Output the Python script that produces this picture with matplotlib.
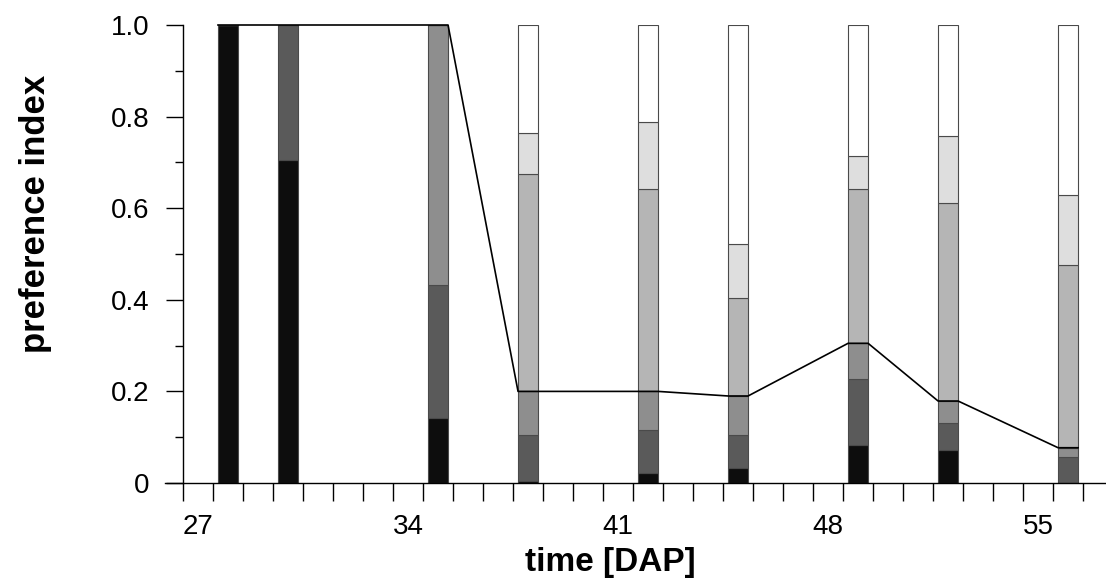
import numpy as np
import matplotlib
matplotlib.use("Agg")
import matplotlib.pyplot as plt
from matplotlib.ticker import FixedLocator, FuncFormatter

plt.rcParams['font.family'] = ['Liberation Sans', 'DejaVu Sans']

# sampling days (DAP)
days = [28, 30, 35, 38, 42, 45, 49, 52, 56]

# stacked fractions, bottom to top
black = [1.0, 0.705, 0.143, 0.004, 0.021, 0.032, 0.083, 0.072, 0.0]
dark = [0.0, 0.295, 0.289, 0.101, 0.095, 0.073, 0.144, 0.060, 0.057]
medium = [0.0, 0.0, 0.568, 0.095, 0.084, 0.085, 0.078, 0.047, 0.020]
lightmed = [0.0, 0.0, 0.0, 0.475, 0.441, 0.215, 0.338, 0.432, 0.399]
vlight = [0.0, 0.0, 0.0, 0.090, 0.147, 0.117, 0.072, 0.147, 0.153]
white = [0.0, 0.0, 0.0, 0.235, 0.212, 0.478, 0.285, 0.242, 0.371]

x_labels = [27, 34, 41, 48, 55]
y_labels = [0, 0.2, 0.4, 0.6, 0.8, 1.0]

layers = [black, dark, medium, lightmed, vlight, white]
colors = ['#0d0d0d', '#5a5a5a', '#8e8e8e', '#b5b5b5', '#dedede', '#ffffff']

fig = plt.figure(figsize=(11.06, 5.84), dpi=100)
ax = fig.add_axes([183 / 1106, 1 - 483 / 584, (1105 - 183) / 1106, 458 / 584])

w = 0.667
bottom = np.zeros(len(days))
for vals, c in zip(layers, colors):
    vals = np.array(vals)
    ax.bar(days, vals, width=w, bottom=bottom, color=c, edgecolor='#4a4a4a',
           linewidth=0.8, zorder=2)
    bottom += vals

# line = black + dark + medium
line = np.array(black) + np.array(dark) + np.array(medium)
lx = np.ravel([[d - w / 2, d + w / 2] for d in days])
ly = np.repeat(line, 2)
ax.plot(lx, ly, color='black', lw=1.2, zorder=3, clip_on=False)

ax.set_xlim(26.5, 57.23)
ax.set_ylim(0, 1.0)

for s in ['top', 'right']:
    ax.spines[s].set_visible(False)
ax.spines['left'].set_linewidth(1.0)
ax.spines['bottom'].set_linewidth(1.0)
ax.spines['bottom'].set_bounds(25.9, 57.23)

ax.xaxis.set_major_locator(FixedLocator(x_labels))
ax.xaxis.set_minor_locator(FixedLocator(np.arange(26.5, 57, 1.0)))
ax.tick_params(axis='x', which='major', length=0, pad=22, labelsize=20)
ax.tick_params(axis='x', which='minor', direction='out', length=13, width=1.0)

ax.yaxis.set_major_locator(FixedLocator(y_labels))
ax.yaxis.set_minor_locator(FixedLocator([0.1, 0.3, 0.5, 0.7, 0.9]))
ax.yaxis.set_major_formatter(FuncFormatter(lambda v, p: '0' if v == 0 else f'{v:.1f}'))
ax.tick_params(axis='y', which='major', direction='out', length=12, width=1.0,
               pad=12, labelsize=20)
ax.tick_params(axis='y', which='minor', direction='out', length=5.5, width=1.0)

fig.text(36 / 1106, 1 - 214 / 584, 'preference index', rotation=90,
         ha='center', va='center', fontsize=25, fontweight='bold')
fig.text(610 / 1106, 1 - 563 / 584, 'time [DAP]', ha='center', va='center',
         fontsize=24, fontweight='bold')

fig.savefig('out.png', dpi=100)
